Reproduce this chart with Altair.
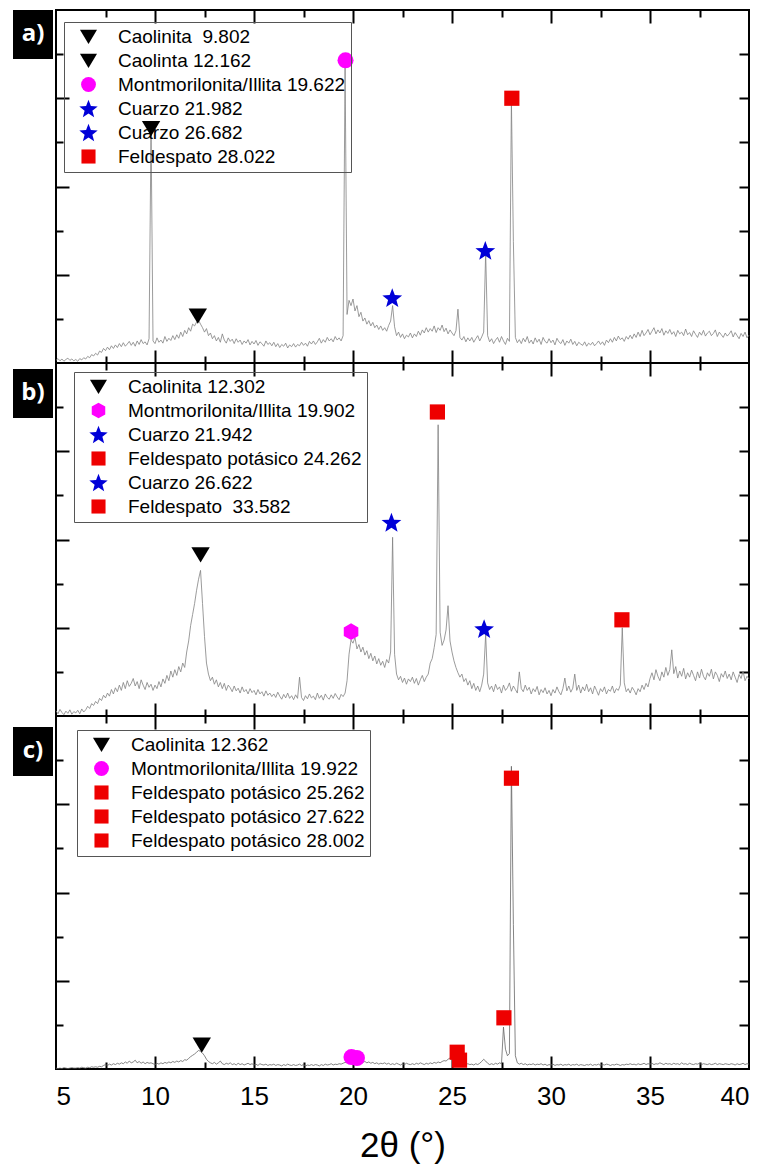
import math
import altair as alt
import pandas as pd

# ---------------- data ----------------
two_theta = [round(5.0 + 0.1 * i, 1) for i in range(351)]

counts_a = [
    0.06,0.10,0.05,0.09,0.04,0.08,0.11,0.06,0.09,0.05,
    0.08,0.04,0.10,0.07,0.12,0.09,0.15,0.12,0.19,0.16,
    0.22,0.18,0.27,0.24,0.33,0.28,0.36,0.30,0.39,0.33,
    0.41,0.35,0.44,0.37,0.46,0.38,0.43,0.49,0.40,0.47,
    0.38,0.50,0.42,0.53,0.44,0.48,0.41,0.55,5.30,0.50,
    0.44,0.57,0.47,0.52,0.45,0.60,0.49,0.56,0.51,0.62,
    0.53,0.64,0.56,0.70,0.60,0.74,0.66,0.80,0.72,0.88,
    0.84,0.93,0.97,0.88,0.80,0.70,0.78,0.62,0.68,0.55,
    0.62,0.50,0.58,0.47,0.66,0.52,0.45,0.57,0.49,0.54,
    0.44,0.55,0.47,0.52,0.42,0.50,0.45,0.53,0.41,0.49,
    0.43,0.51,0.40,0.48,0.44,0.38,0.50,0.42,0.46,0.39,
    0.47,0.37,0.44,0.35,0.42,0.38,0.45,0.34,0.41,0.37,
    0.44,0.36,0.42,0.39,0.47,0.40,0.45,0.38,0.49,0.43,
    0.50,0.42,0.48,0.56,0.45,0.53,0.47,0.58,0.50,0.55,
    0.48,0.60,0.52,0.57,0.50,0.62,6.70,1.10,1.42,1.30,
    1.45,1.18,1.30,1.05,1.15,0.95,1.02,0.88,0.96,0.84,
    0.92,0.80,0.86,0.76,0.84,0.74,0.80,0.72,0.85,0.95,
    1.30,0.82,0.62,0.70,0.58,0.66,0.55,0.63,0.59,0.68,
    0.57,0.66,0.60,0.72,0.63,0.75,0.68,0.80,0.70,0.78,
    0.72,0.84,0.69,0.80,0.74,0.86,0.71,0.79,0.66,0.75,
    0.68,0.62,0.73,1.22,0.58,0.52,0.60,0.48,0.57,0.50,
    0.58,0.47,0.55,0.62,0.50,0.59,0.70,2.50,0.62,0.48,
    0.55,0.44,0.52,0.58,0.47,0.60,0.50,0.42,0.56,0.49,
    5.95,2.75,0.58,0.46,0.53,0.44,0.56,0.48,0.60,0.45,
    0.52,0.43,0.57,0.47,0.54,0.42,0.58,0.49,0.45,0.55,
    0.46,0.52,0.41,0.56,0.48,0.44,0.53,0.40,0.50,0.45,
    0.54,0.42,0.49,0.39,0.47,0.43,0.40,0.48,0.38,0.45,
    0.41,0.47,0.39,0.44,0.50,0.42,0.48,0.40,0.52,0.46,
    0.55,0.47,0.58,0.50,0.61,0.53,0.57,0.49,0.60,0.54,
    0.63,0.55,0.66,0.58,0.70,0.60,0.74,0.62,0.68,0.76,
    0.64,0.72,0.80,0.66,0.75,0.68,0.78,0.63,0.73,0.67,
    0.76,0.65,0.71,0.60,0.74,0.66,0.70,0.62,0.77,0.64,
    0.69,0.60,0.73,0.65,0.58,0.70,0.63,0.74,0.61,0.68,
    0.72,0.62,0.67,0.75,0.60,0.70,0.64,0.58,0.68,0.61,
    0.66,0.73,0.59,0.69,0.62,0.55,0.67,0.60,0.70,0.57,
    0.63,
]

counts_b = [
    0.12,0.05,0.15,0.08,0.03,0.11,0.06,0.14,0.04,0.10,
    0.07,0.13,0.05,0.16,0.09,0.14,0.22,0.17,0.28,0.24,
    0.33,0.28,0.40,0.35,0.47,0.41,0.52,0.45,0.60,0.50,
    0.64,0.55,0.70,0.58,0.76,0.62,0.80,0.67,0.74,0.85,
    0.68,0.78,0.62,0.82,0.70,0.60,0.76,0.65,0.72,0.58,
    0.70,0.62,0.78,0.66,0.84,0.74,0.92,0.80,1.02,0.88,
    1.05,0.92,1.12,1.00,1.20,1.10,1.45,1.70,2.05,2.30,
    2.55,2.85,3.10,3.30,2.55,1.80,1.20,0.95,0.80,0.88,
    0.72,0.82,0.66,0.76,0.62,0.74,0.58,0.70,0.64,0.55,
    0.68,0.57,0.63,0.52,0.66,0.55,0.60,0.50,0.62,0.53,
    0.58,0.48,0.60,0.50,0.55,0.45,0.57,0.47,0.52,0.44,
    0.50,0.42,0.54,0.45,0.38,0.49,0.41,0.52,0.40,0.46,
    0.37,0.48,0.40,0.88,0.42,0.35,0.46,0.39,0.50,0.41,
    0.45,0.37,0.52,0.40,0.47,0.36,0.50,0.42,0.38,0.48,
    0.40,0.51,0.43,0.37,0.49,0.44,0.52,0.80,1.40,1.72,
    1.65,1.78,1.52,1.62,1.45,1.56,1.38,1.48,1.30,1.42,
    1.25,1.36,1.18,1.30,1.15,1.24,1.10,1.28,1.20,1.45,
    4.05,1.40,0.95,0.82,0.90,0.76,0.86,0.72,0.84,0.78,
    0.88,0.74,0.85,0.70,0.82,0.92,0.78,0.88,0.95,1.20,
    1.30,1.55,1.85,6.60,1.90,1.60,1.72,1.95,2.50,1.70,
    1.45,1.25,1.10,0.98,0.88,0.95,0.78,0.85,0.70,0.80,
    0.62,0.74,0.58,0.68,0.55,0.70,0.95,1.85,0.75,0.60,
    0.68,0.55,0.72,0.60,0.66,0.52,0.70,0.58,0.64,0.75,
    0.56,0.68,0.60,0.52,1.00,0.62,0.55,0.70,0.58,0.65,
    0.50,0.62,0.55,0.67,0.48,0.60,0.53,0.64,0.50,0.58,
    0.46,0.60,0.52,0.66,0.55,0.48,0.62,0.86,0.57,0.68,
    0.54,0.63,0.95,0.58,0.70,0.52,0.66,0.57,0.72,0.55,
    0.64,0.50,0.68,0.58,0.47,0.62,0.55,0.66,0.50,0.60,
    0.56,0.68,0.52,0.62,0.58,0.70,2.00,0.75,0.55,0.62,
    0.52,0.65,0.58,0.48,0.62,0.55,0.70,0.60,0.74,0.66,
    0.85,0.98,0.82,1.05,0.90,0.80,1.00,0.88,1.10,0.92,
    1.05,1.50,0.96,1.12,0.86,1.02,0.90,1.08,0.84,0.98,
    0.88,1.04,0.92,0.80,1.00,0.86,1.06,0.90,0.82,0.98,
    0.90,1.06,0.84,1.00,0.92,0.78,0.96,0.88,1.02,0.85,
    0.95,0.82,1.00,0.88,0.76,0.94,0.85,1.02,0.80,0.90,
    0.84,
]

counts_c = [
    0.02,0.01,0.02,0.01,0.03,0.02,0.01,0.02,0.03,0.02,
    0.02,0.03,0.02,0.04,0.03,0.02,0.04,0.03,0.05,0.04,
    0.05,0.04,0.06,0.05,0.08,0.10,0.08,0.11,0.09,0.12,
    0.10,0.13,0.11,0.14,0.12,0.16,0.13,0.18,0.14,0.16,
    0.20,0.14,0.17,0.13,0.16,0.12,0.15,0.13,0.14,0.12,
    0.10,0.13,0.11,0.14,0.12,0.15,0.13,0.16,0.14,0.17,
    0.15,0.18,0.16,0.19,0.17,0.21,0.20,0.24,0.28,0.31,
    0.34,0.38,0.42,0.40,0.36,0.30,0.22,0.17,0.14,0.12,
    0.15,0.11,0.14,0.18,0.12,0.10,0.13,0.11,0.14,0.10,
    0.12,0.09,0.13,0.10,0.12,0.09,0.11,0.13,0.10,0.12,
    0.09,0.11,0.08,0.12,0.10,0.09,0.11,0.08,0.10,0.09,
    0.11,0.08,0.10,0.09,0.07,0.10,0.08,0.11,0.09,0.08,
    0.10,0.08,0.09,0.11,0.08,0.10,0.07,0.09,0.08,0.10,
    0.08,0.10,0.09,0.07,0.10,0.08,0.11,0.09,0.10,0.12,
    0.09,0.11,0.10,0.12,0.11,0.13,0.15,0.14,0.17,0.22,
    0.25,0.20,0.17,0.14,0.18,0.15,0.17,0.14,0.16,0.13,
    0.15,0.12,0.14,0.11,0.13,0.12,0.14,0.11,0.13,0.10,
    0.12,0.10,0.13,0.11,0.09,0.12,0.10,0.13,0.11,0.10,
    0.12,0.10,0.13,0.11,0.14,0.12,0.10,0.13,0.11,0.14,
    0.12,0.15,0.13,0.16,0.14,0.17,0.19,0.18,0.22,0.25,
    0.27,0.30,0.32,0.28,0.21,0.16,0.12,0.10,0.12,0.10,
    0.11,0.09,0.12,0.10,0.13,0.17,0.22,0.18,0.13,0.10,
    0.12,0.10,0.13,0.11,0.14,0.12,0.95,0.45,0.30,0.35,
    6.86,3.27,0.30,0.14,0.11,0.13,0.10,0.12,0.09,0.11,
    0.10,0.12,0.09,0.11,0.10,0.12,0.09,0.11,0.08,0.10,
    0.09,0.11,0.08,0.10,0.09,0.11,0.08,0.10,0.09,0.11,
    0.08,0.10,0.09,0.11,0.08,0.10,0.09,0.08,0.10,0.09,
    0.11,0.08,0.10,0.09,0.11,0.08,0.10,0.09,0.11,0.10,
    0.08,0.10,0.09,0.11,0.10,0.08,0.10,0.09,0.11,0.10,
    0.12,0.10,0.11,0.09,0.12,0.10,0.11,0.13,0.10,0.12,
    0.11,0.13,0.10,0.12,0.11,0.14,0.12,0.10,0.13,0.11,
    0.12,0.10,0.13,0.11,0.12,0.10,0.14,0.11,0.12,0.10,
    0.13,0.11,0.10,0.12,0.11,0.13,0.10,0.12,0.11,0.10,
    0.12,0.10,0.11,0.13,0.10,0.12,0.11,0.10,0.12,0.11,
    0.10,0.12,0.11,0.09,0.12,0.10,0.11,0.13,0.10,0.12,
    0.11,
]

# legend entries (one per identified peak)
labels_a = ["Caolinita \u00a09.802", "Caolinta 12.162", "Montmorilonita/Illita 19.622",
            "Cuarzo 21.982", "Cuarzo 26.682", "Feldespato 28.022"]
labels_b = ["Caolinita 12.302", "Montmorilonita/Illita 19.902", "Cuarzo 21.942",
            "Feldespato potásico 24.262", "Cuarzo 26.622", "Feldespato \u00a033.582"]
labels_c = ["Caolinita 12.362", "Montmorilonita/Illita 19.922", "Feldespato potásico 25.262",
            "Feldespato potásico 27.622", "Feldespato potásico 28.002"]

# marker positions (2θ, height) and their legend entry
mark_a_x = [9.802, 12.162, 19.622, 21.982, 26.682, 28.022]
mark_a_y = [5.32, 1.07, 6.86, 1.48, 2.55, 6.00]
mark_a_lab = labels_a

mark_b_x = [12.302, 19.902, 21.942, 24.262, 26.622, 33.582]
mark_b_y = [3.66, 1.91, 4.39, 6.89, 1.98, 2.18]
mark_b_lab = labels_b

mark_c_x = [12.362, 19.922, 20.20, 25.262, 25.38, 27.622, 28.002]
mark_c_y = [0.55, 0.27, 0.25, 0.38, 0.20, 1.16, 6.59]
mark_c_lab = [labels_c[0], labels_c[1], labels_c[1], labels_c[2], labels_c[2], labels_c[3], labels_c[4]]

x_tick_values = [7.5, 10, 12.5, 15, 17.5, 20, 22.5, 25, 27.5, 30, 32.5, 35, 37.5]
x_label_values = [5, 10, 15, 20, 25, 30, 35, 40]
y_tick_values = [1, 2, 3, 4, 5, 6, 7]

# ---------------- styling ----------------
W, H = 693, 353
BLACK, MAGENTA, BLUE, RED = "#000000", "#ff00ff", "#0000d8", "#ee0000"


def star_path(n=5, r_out=1.3, r_in=0.55):
    pts = []
    for k in range(2 * n):
        r = r_out if k % 2 == 0 else r_in
        ang = -math.pi / 2 + k * math.pi / n
        pts.append((r * math.cos(ang), r * math.sin(ang) + 0.12))
    return "M" + "L".join(f"{x:.3f},{y:.3f}" for x, y in pts) + "Z"


STAR = star_path()
HEX = "M0,-1.05L0.91,-0.525L0.91,0.525L0,1.05L-0.91,0.525L-0.91,-0.525Z"
TRI = "M-1.15,-0.9L1.15,-0.9L0,1.0Z"
CIRC = "circle"
SQR = "M-0.95,-0.95L0.95,-0.95L0.95,0.95L-0.95,0.95Z"

shapes_a = [TRI, TRI, CIRC, STAR, STAR, SQR]
colors_a = [BLACK, BLACK, MAGENTA, BLUE, BLUE, RED]
shapes_b = [TRI, HEX, STAR, SQR, STAR, SQR]
colors_b = [BLACK, MAGENTA, BLUE, RED, BLUE, RED]
shapes_c = [TRI, CIRC, SQR, SQR, SQR]
colors_c = [BLACK, MAGENTA, RED, RED, RED]

x_scale = alt.Scale(domain=[5, 40], nice=False, zero=False)
y_scale = alt.Scale(domain=[0, 8], nice=False, zero=False)

x_major = {"condition": {"test": "datum.value % 5 === 0", "value": 13}, "value": 7}
y_major = {"condition": {"test": "datum.value % 2 === 0", "value": 13}, "value": 7}


def tick_axis(orient, offset, values, size):
    return alt.Axis(orient=orient, offset=offset, values=values, labels=False, domain=False,
                    grid=False, title=None, tickSize=size, tickWidth=2, tickColor="black")


def panel(tag, counts, line_color, labels, colors, shapes, mx, my, mlab,
          leg_x, leg_y, box_y, with_labels):
    line_df = pd.DataFrame({"two_theta": two_theta, "intensity": counts})
    mk_df = pd.DataFrame({"two_theta": mx, "intensity": my, "label": mlab})
    tag_df = pd.DataFrame({"tag": [tag]})

    line = alt.Chart(line_df).mark_line(color=line_color, strokeWidth=0.8).encode(
        x=alt.X("two_theta:Q", scale=x_scale, axis=tick_axis("top", -H, x_tick_values, x_major)),
        y=alt.Y("intensity:Q", scale=y_scale, axis=tick_axis("right", -W, y_tick_values, y_major)),
    )

    leg = alt.Legend(title=None, orient="none", legendX=leg_x, legendY=leg_y,
                     strokeColor="#555555", padding=5, rowPadding=4,
                     labelFont="Liberation Sans", labelFontSize=19, labelColor="black",
                     labelLimit=500, labelOffset=20, symbolOffset=10,
                     symbolSize=220, symbolStrokeWidth=0)
    pts = alt.Chart(mk_df).mark_point(filled=True, size=256, opacity=1, strokeWidth=0).encode(
        x=alt.X("two_theta:Q", scale=x_scale, axis=tick_axis("bottom", -H, x_tick_values, x_major)),
        y=alt.Y("intensity:Q", scale=y_scale, axis=tick_axis("left", -W, y_tick_values, 10)),
        color=alt.Color("label:N", scale=alt.Scale(domain=labels, range=colors), legend=leg),
        shape=alt.Shape("label:N", scale=alt.Scale(domain=labels, range=shapes), legend=leg),
    )

    box = alt.Chart(tag_df).mark_rect(color="black").encode(
        x=alt.value(-43), x2=alt.value(-3), y=alt.value(box_y), y2=alt.value(box_y + 49))
    txt = alt.Chart(tag_df).mark_text(color="white", font="Open Sans", fontSize=24,
                                      fontWeight="bold").encode(
        x=alt.value(-23), y=alt.value(box_y + 24), text="tag:N")

    layers = [line, pts, box, txt]
    if with_labels:
        lab = alt.Chart(line_df).mark_line(opacity=0).encode(
            x=alt.X("two_theta:Q", scale=x_scale,
                    axis=alt.Axis(orient="bottom", values=x_label_values, ticks=False, domain=False,
                                  grid=False, format="d", labelFont="Liberation Sans",
                                  labelFontSize=26, labelColor="black", labelPadding=14,
                                  title="2θ (°)", titleFont="Liberation Sans", titleFontSize=35,
                                  titleFontWeight="normal", titleColor="black", titlePadding=19)),
            y=alt.Y("intensity:Q", scale=y_scale, axis=None),
        )
        layers.append(lab)

    return alt.layer(*layers).resolve_axis(x="independent", y="independent").properties(
        width=W, height=H)


pa = panel("a)", counts_a, "#828282", labels_a, colors_a, shapes_a,
           mark_a_x, mark_a_y, mark_a_lab, 8, 12, 0, False)
pb = panel("b)", counts_b, "#828282", labels_b, colors_b, shapes_b,
           mark_b_x, mark_b_y, mark_b_lab, 18, 9, 6, False)
pc = panel("c)", counts_c, "#666666", labels_c, colors_c, shapes_c,
           mark_c_x, mark_c_y, mark_c_lab, 21, 14, 11, True)

chart = alt.vconcat(pa, pb, pc, spacing=0, bounds="flush").resolve_scale(
    x="independent", y="independent", color="independent", shape="independent"
).configure_view(stroke="black", strokeWidth=2).properties(
    padding={"left": 4, "top": 0, "right": 4, "bottom": 0}
)

chart.save("out.html", embed_options={"renderer": "svg", "actions": False})
